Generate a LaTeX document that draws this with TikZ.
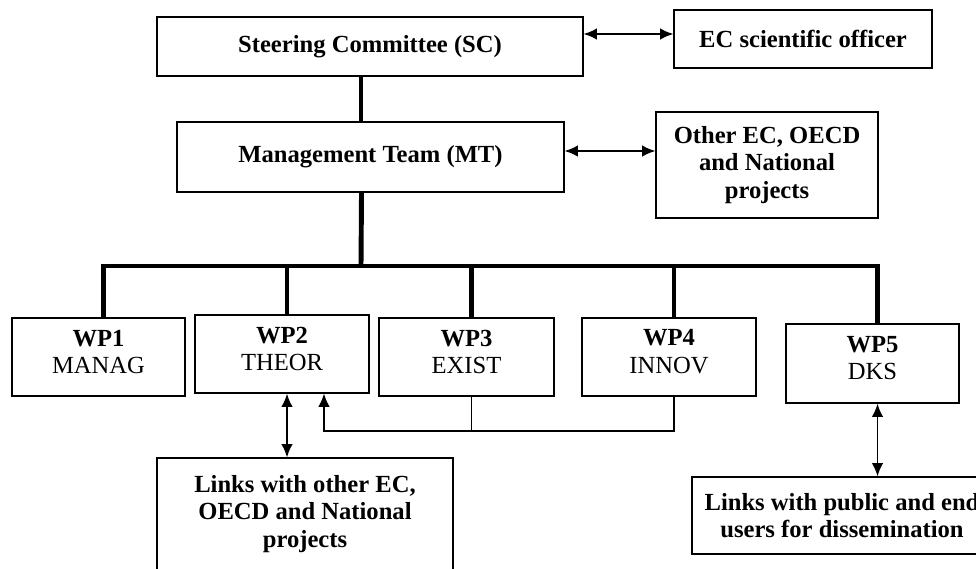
\documentclass[tikz,border=0pt]{standalone}
\usepackage{fontspec}
\setmainfont{Liberation Serif}
\usetikzlibrary{arrows.meta}

\begin{document}
\begin{tikzpicture}[x=0.02cm,y=-0.02cm,
	box/.style={draw,line width=0.7pt,align=center,inner sep=2pt,font=\fontsize{14}{15.5}\selectfont\bfseries},
	wpbox/.style={box,text depth=0.22cm,font=\fontsize{14}{15.5}\selectfont},
	bus/.style={line width=2.8pt},
	feed/.style={line width=0.75pt},
	link/.style={line width=1pt,{Latex[length=7.5pt,width=6.5pt]}-{Latex[length=7.5pt,width=6.5pt]}}]
			\useasboundingbox (0,0) rectangle (976,568);
			\node[box,minimum width=8.52cm,minimum height=1.18cm] (SC) at (370,46.5) {Steering Committee (SC)};
			\node[box,minimum width=5.16cm,minimum height=1.16cm] (EC) at (803,39) {EC scientific officer};
			\node[box,minimum width=7.74cm,minimum height=1.4cm] (MT) at (370.5,157) {Management Team (MT)};
			\node[box,minimum width=4.44cm,minimum height=2.12cm] (OEC) at (767,165) {Other EC, OECD\\and National\\projects};
			\node[wpbox,minimum width=3.46cm,minimum height=1.56cm] (WP1) at (98.5,357) {\textbf{WP1}\\MANAG};
			\node[wpbox,minimum width=3.48cm,minimum height=1.56cm] (WP2) at (282,354) {\textbf{WP2}\\THEOR};
			\node[wpbox,minimum width=3.5cm,minimum height=1.56cm] (WP3) at (466.5,357) {\textbf{WP3}\\EXIST};
			\node[wpbox,minimum width=3.48cm,minimum height=1.56cm] (WP4) at (669,357) {\textbf{WP4}\\INNOV};
			\node[wpbox,minimum width=3.46cm,minimum height=1.58cm] (WP5) at (872.5,363.5) {\textbf{WP5}\\DKS};
			\node[box,minimum width=5.92cm,minimum height=2.24cm] (L1) at (305,514) {Links with other EC,\\OECD and National\\projects};
			\node[box,minimum width=6cm,minimum height=1.54cm] (L2) at (842,515.5) {Links with public and end\\users for dissemination};
			\coordinate (bus) at (361,266);
			\coordinate (fb) at (324,431);
			\draw[link] ([yshift=0.25cm]SC.east) -- ([yshift=0.25cm]SC.east -| EC.west);
			\draw[link] ([yshift=0.12cm]MT.east) -- ([yshift=0.12cm]MT.east -| OEC.west);
			\draw[bus] ([xshift=-0.18cm]SC.south) -- ([xshift=-0.18cm]SC.south |- MT.north);
			\draw[bus] ([xshift=-0.18cm]MT.south) -- (bus);
			\draw[bus,line join=miter] ([xshift=0.1cm]WP1.north) |- (bus) -| ([xshift=0.1cm]WP5.north);
			\foreach \w in {WP2,WP3,WP4}
				\draw[bus] ([xshift=0.1cm]\w.north) -- ([xshift=0.1cm]\w.north |- bus);
			\draw[feed,-{Latex[length=7.5pt,width=6.5pt]}] ([xshift=0.1cm]WP4.south) |- (fb) -- (fb |- WP2.south);
			\draw[feed] ([xshift=0.1cm]WP3.south) -- ([xshift=0.1cm]WP3.south |- fb);
			\draw[link] ([xshift=0.1cm]WP2.south) -- ([xshift=0.1cm]WP2.south |- L1.north);
			\draw[link] ([xshift=0.1cm]WP5.south) -- ([xshift=0.1cm]WP5.south |- L2.north);
		\end{tikzpicture}
\end{document}
